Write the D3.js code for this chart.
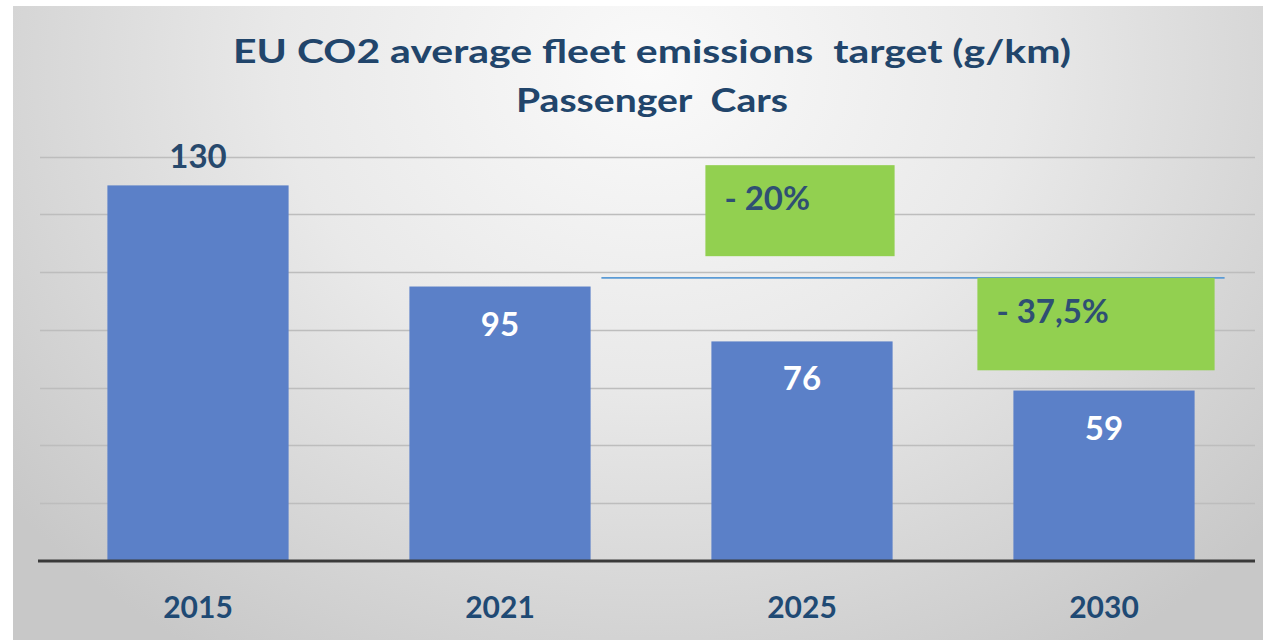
<!DOCTYPE html>
<html>
<head>
<meta charset="utf-8">
<script src="https://cdn.jsdelivr.net/npm/d3@7"></script>
<style>
  html, body { margin: 0; padding: 0; background: #fff; }
  svg { display: block; }
  text { font-family: Lato, "Open Sans", sans-serif; font-weight: bold; }
</style>
</head>
<body>
<div id="chart"></div>
<script>
// EU CO2 fleet targets, passenger cars
const years = ['2015', '2021', '2025', '2030'];
const targets = [130, 95, 76, 59];
const gridTicks = [20, 40, 60, 80, 100, 120, 140];
const titleLines = ['EU CO2 average fleet emissions  target (g/km)', 'Passenger  Cars'];

// reduction call-outs (box spans in g/km)
const calloutLabels = ['- 20%', '- 37,5%'];
const calloutYears = ['2025', '2030'];
const calloutTop = [137, 98];
const calloutBottom = [105.5, 66];
const referenceLevel = 98;

;(function () {
  const W = 1263, H = 640;
  const svg = d3.select('#chart').append('svg')
    .attr('width', W)
    .attr('height', H);

  const defs = svg.append('defs');
  const grad = defs.append('radialGradient')
    .attr('id', 'bg')
    .attr('gradientUnits', 'userSpaceOnUse')
    .attr('cx', 650).attr('cy', 70).attr('r', 820)
    .attr('gradientTransform', 'translate(650 70) scale(1 0.85) translate(-650 -70)');
  grad.append('stop').attr('offset', '0%').attr('stop-color', '#fafafa');
  grad.append('stop').attr('offset', '45%').attr('stop-color', '#e9e9e9');
  grad.append('stop').attr('offset', '100%').attr('stop-color', '#c8c8c8');

  svg.append('rect')
    .attr('x', 13).attr('y', 6)
    .attr('width', W - 13).attr('height', H - 6)
    .attr('fill', 'url(#bg)');

  const baseY = 561;
  const x = d3.scaleBand()
    .domain(years)
    .range([47, 1255])
    .paddingInner(0.4)
    .paddingOuter(0.2);
  const y = d3.scaleLinear()
    .domain([0, 140])
    .range([baseY, 156.5]);

  // gridlines
  svg.append('g')
    .selectAll('line')
    .data(gridTicks)
    .join('line')
    .attr('x1', 40).attr('x2', 1255)
    .attr('y1', d => Math.round(y(d)) + 0.5)
    .attr('y2', d => Math.round(y(d)) + 0.5)
    .attr('stroke', '#bdbdbd')
    .attr('stroke-width', 1.5);

  // bars
  svg.append('g')
    .selectAll('rect')
    .data(targets)
    .join('rect')
    .attr('x', (d, i) => x(years[i]))
    .attr('width', x.bandwidth())
    .attr('y', d => y(d))
    .attr('height', d => y(0) - y(d))
    .attr('fill', '#5b80c8');

  // baseline
  svg.append('line')
    .attr('x1', 38).attr('x2', 1255)
    .attr('y1', y(0)).attr('y2', y(0))
    .attr('stroke', '#3a3a3a')
    .attr('stroke-width', 3);

  // value labels: first above bar, rest inside in white
  svg.append('g')
    .selectAll('text')
    .data(targets)
    .join('text')
    .attr('x', (d, i) => x(years[i]) + x.bandwidth() / 2)
    .attr('y', (d, i) => i === 0 ? y(d) - 17 : y(d) + 49)
    .attr('text-anchor', 'middle')
    .attr('font-size', 33)
    .attr('fill', (d, i) => i === 0 ? '#27496d' : '#ffffff')
    .text(d => d);

  // category labels
  svg.append('g')
    .selectAll('text')
    .data(years)
    .join('text')
    .attr('x', d => x(d) + x.bandwidth() / 2)
    .attr('y', 618)
    .attr('text-anchor', 'middle')
    .attr('font-size', 30)
    .attr('fill', '#1f4a74')
    .text(d => d);

  // reference line
  svg.append('line')
    .attr('x1', x('2025') - 110).attr('x2', x('2030') + x.bandwidth() + 30)
    .attr('y1', y(referenceLevel)).attr('y2', y(referenceLevel))
    .attr('stroke', '#5b9bd5')
    .attr('stroke-width', 1.8);

  // call-out boxes
  const boxPad = [[-6, 2], [-36, 20]];
  const callouts = svg.append('g')
    .selectAll('g')
    .data(calloutLabels)
    .join('g');
  callouts.append('rect')
    .attr('x', (d, i) => x(calloutYears[i]) + boxPad[i][0])
    .attr('width', (d, i) => x.bandwidth() - boxPad[i][0] + boxPad[i][1])
    .attr('y', (d, i) => y(calloutTop[i]))
    .attr('height', (d, i) => y(calloutBottom[i]) - y(calloutTop[i]))
    .attr('fill', '#92d050');
  callouts.append('text')
    .attr('x', (d, i) => x(calloutYears[i]) + boxPad[i][0] + 19)
    .attr('y', (d, i) => y(calloutTop[i]) + 45)
    .attr('font-size', 33)
    .attr('fill', '#2f4f73')
    .text(d => d);

  // title, stretched to the width of the original
  const titleWidths = [838, 272];
  svg.append('g')
    .selectAll('text')
    .data(titleLines)
    .join('text')
    .attr('x', 652)
    .attr('y', (d, i) => 63 + i * 49)
    .attr('text-anchor', 'middle')
    .attr('font-size', 33)
    .attr('fill', '#21456b')
    .attr('textLength', (d, i) => titleWidths[i])
    .attr('lengthAdjust', 'spacingAndGlyphs')
    .style('white-space', 'pre')
    .text(d => d);
})();
</script>
</body>
</html>
